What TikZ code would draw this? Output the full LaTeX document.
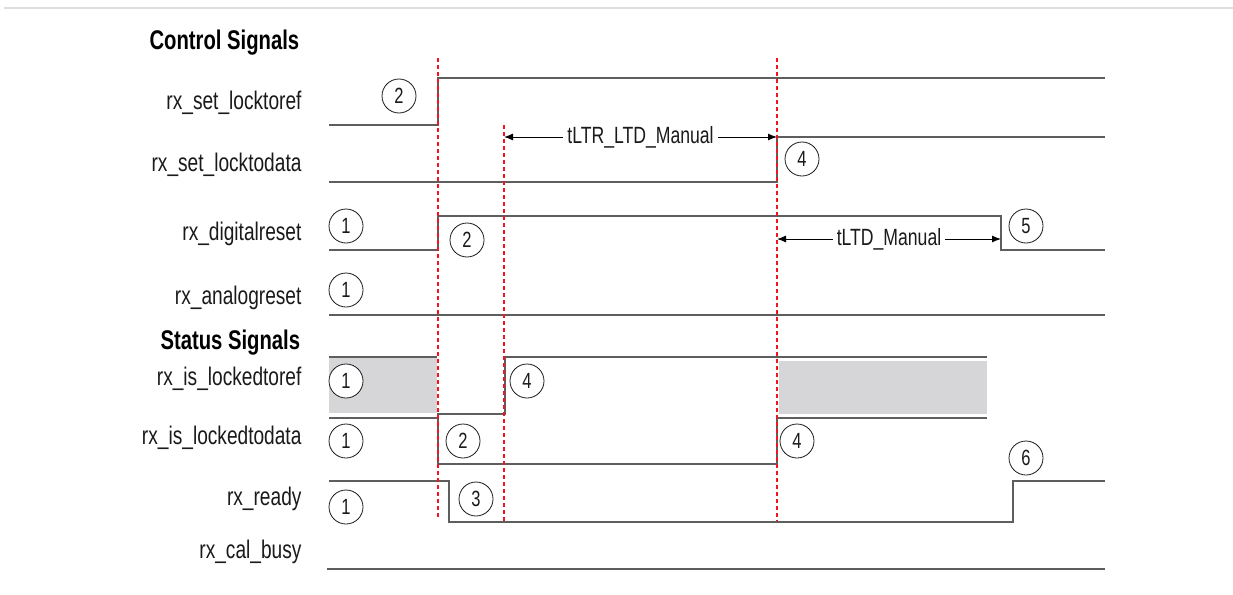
\documentclass[tikz,border=0pt]{standalone}
\usepackage{fontspec}
\setmainfont{Liberation Sans}[FakeStretch=0.75]
\usetikzlibrary{arrows.meta,positioning}
\definecolor{wireGray}{HTML}{5E5E5E}
\definecolor{fillGray}{HTML}{D6D5D7}
\definecolor{ruleGray}{HTML}{DDDDDD}
\definecolor{markRed}{HTML}{F5141E}
\definecolor{inkBlack}{HTML}{1A1A1A}
\tikzset{
  >={Latex[length=9pt,width=7pt]},
  heading/.style={anchor=base west,font=\fontsize{27}{30}\selectfont\bfseries,text=black},
  signame/.style={anchor=base east,font=\fontsize{25.5}{28}\selectfont,text=inkBlack},
  wave/.style={draw=wireGray,line width=1.3pt},
  holdfill/.style={fill=fillGray,draw=none},
  stepnum/.style={circle,draw=inkBlack,fill=white,line width=0.8pt,minimum size=34pt,inner sep=0pt,
    font=\fontsize{22}{24}\selectfont,text=inkBlack},
  redmark/.style={draw=markRed,line width=1.7pt,dash pattern=on 4pt off 3pt},
  gaparrow/.style={<->,draw=black,line width=1pt},
  gaplabel/.style={fill=white,inner sep=4pt,font=\fontsize{23.5}{26}\selectfont,text=inkBlack},
}

\begin{document}
\begin{tikzpicture}[x=1pt,y=-1pt]
  \useasboundingbox (0,0) rectangle (1233,594);
  \draw[ruleGray, line width=2pt] (4,8) -- (1233,8);

  % headings and signal names
  \node[heading] (ctrlhead) at (146,49) {Control Signals};
  \node[heading] (stathead) at (157,349) {Status Signals};

  \node[signame] (setref)   at (305,109) {rx\_set\_locktoref};
  \node[signame] (setdata)  at (305,171) {rx\_set\_locktodata};
  \node[signame] (digrst)   at (305,240) {rx\_digitalreset};
  \node[signame] (anarst)   at (305,304) {rx\_analogreset};
  \node[signame] (isref)    at (305,385) {rx\_is\_lockedtoref};
  \node[signame] (isdata)   at (305,444) {rx\_is\_lockedtodata};
  \node[signame] (ready)    at (305,505) {rx\_ready};
  \node[signame] (calbusy)  at (305,558) {rx\_cal\_busy};

  % undefined (shaded) states
  \fill[holdfill] (329,357) rectangle (437,413);
  \fill[holdfill] (779,361) rectangle (987,414);

  % waveforms
  \draw[wave] (329,125) -- (438,125) -- (438,78) -- (1105,78);
  \draw[wave] (329,182) -- (777,182) -- (777,137) -- (1105,137);
  \draw[wave] (329,250) -- (438,250) -- (438,216) -- (1001,216) -- (1001,250) -- (1105,250);
  \draw[wave] (329,315) -- (1105,315);
  \draw[wave] (329,357) -- (437,357);
  \draw[wave] (437,414) -- (505,414) -- (505,357) -- (987,357);
  \draw[wave] (329,418) -- (438,418) -- (438,464) -- (777,464) -- (777,418) -- (987,418);
  \draw[wave] (329,481) -- (449,481) -- (449,522) -- (1013,522) -- (1013,481) -- (1105,481);
  \draw[wave] (327,569) -- (1105,569);

  % event markers
  \draw[redmark] (438,58) -- (438,519);
  \draw[redmark] (504,125) -- (504,521);
  \draw[redmark] (777,58) -- (777,521);

  % timing spans
  \coordinate (ltrA) at (504,137);
  \coordinate (ltrB) at (777,137);
  \coordinate (ltdA) at (777,239);
  \coordinate (ltdB) at (1001,239);
  \draw[gaparrow] (ltrA) -- node[gaplabel] (ltrlbl) {tLTR\_LTD\_Manual} (ltrB);
  \draw[gaparrow] (ltdA) -- node[gaplabel] (ltdlbl) {tLTD\_Manual} (ltdB);

  % step numbers
  \node[stepnum] (sA) at (399,96) {2};
  \node[stepnum] (sB) at (802,159) {4};
  \node[stepnum] (sC) at (346,226) {1};
  \node[stepnum] (sD) at (467,240) {2};
  \node[stepnum] (sE) at (1026,226) {5};
  \node[stepnum] (sF) at (346,290) {1};
  \node[stepnum] (sG) at (346,381) {1};
  \node[stepnum] (sH) at (527,381) {4};
  \node[stepnum] (sI) at (346,441) {1};
  \node[stepnum] (sJ) at (463,441) {2};
  \node[stepnum] (sK) at (797,441) {4};
  \node[stepnum] (sL) at (346,507) {1};
  \node[stepnum] (sM) at (476,499) {3};
  \node[stepnum] (sN) at (1026,458) {6};
\end{tikzpicture}
\end{document}
